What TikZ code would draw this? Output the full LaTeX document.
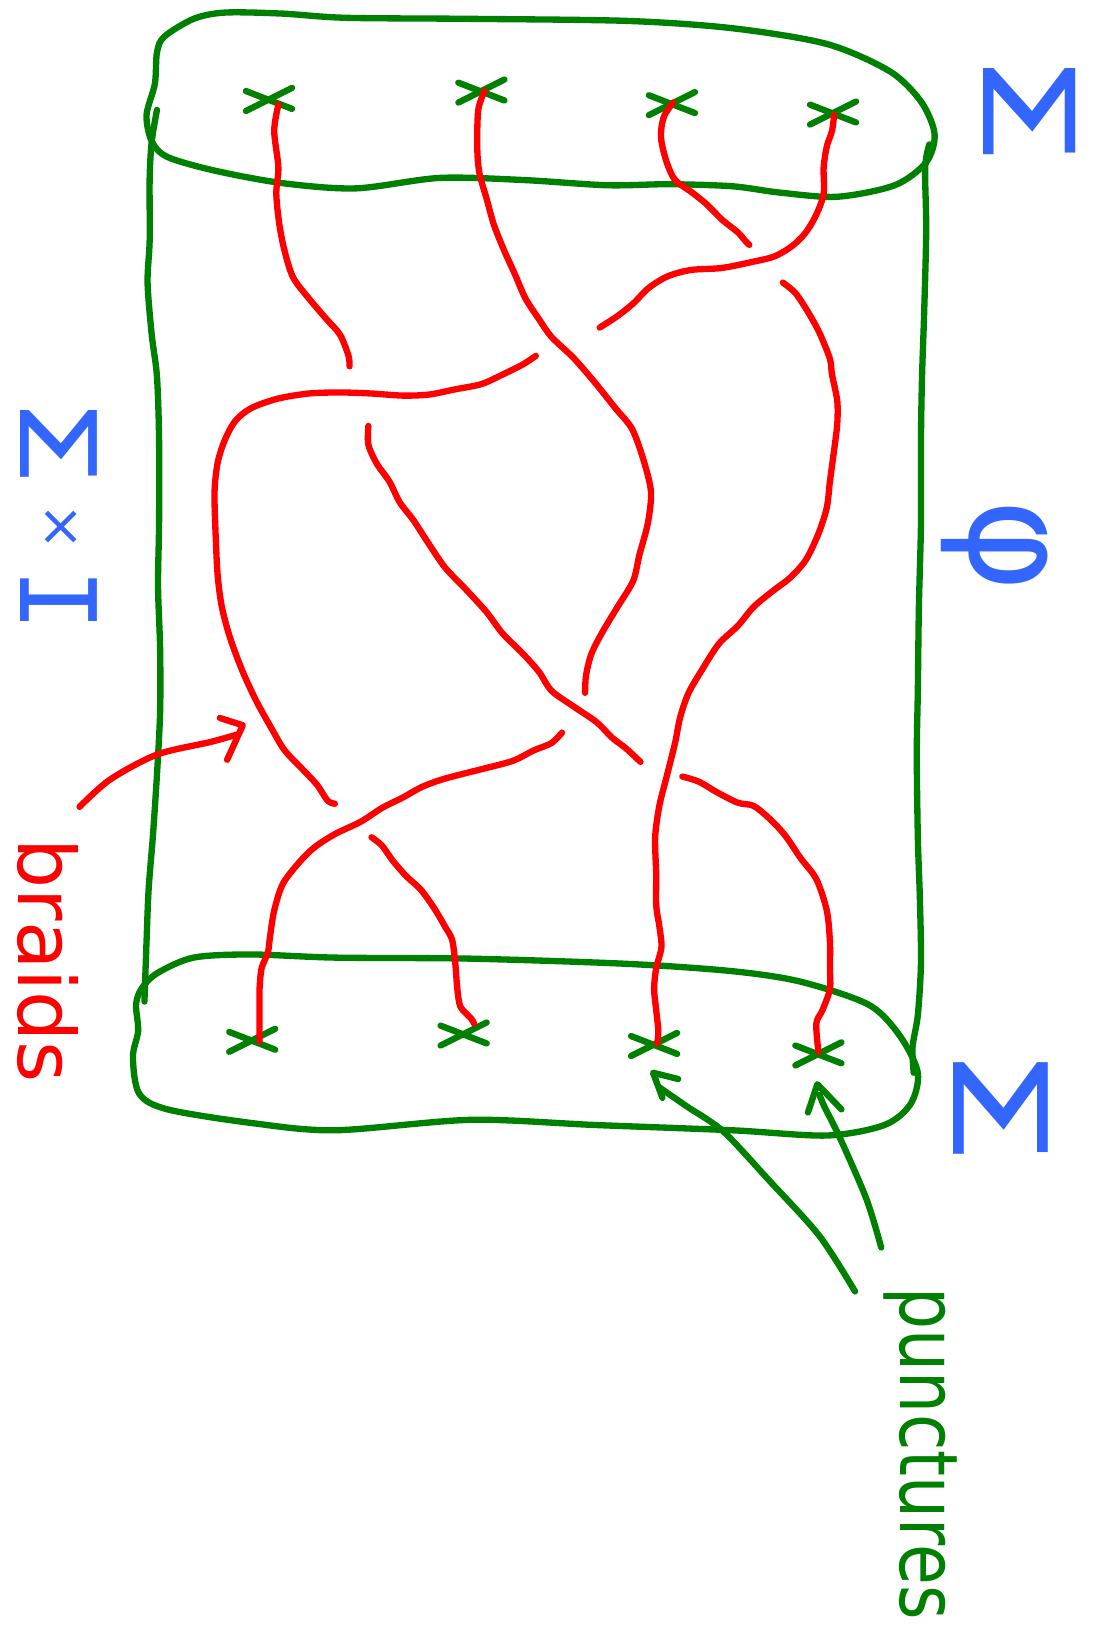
\documentclass[tikz,border=0pt]{standalone}
\usepackage{fontspec}
\setmainfont{DejaVu Sans}
\newfontfamily\slabfont{DejaVu Sans Mono}
\usepackage{graphicx}
\definecolor{penred}{RGB}{255,0,0}
\definecolor{pengreen}{RGB}{0,128,0}
\definecolor{penblue}{RGB}{51,102,255}
\usetikzlibrary{calc}

\begin{document}
\begin{tikzpicture}[x=0.010468cm,y=-0.010468cm,
  rim/.style={draw=pengreen,line width=1.8pt,line cap=round,line join=round},
  strand/.style={draw=penred,line width=1.8pt,line cap=round,line join=round},
  handlabel/.style={rotate=-90,inner sep=0pt},
  puncture/.pic={\draw[rim] (-23,-7) -- (21,10); \draw[rim] (-23,12) -- (21,-10);}]
  \useasboundingbox (0,0) rectangle (1046,1568);
  % Top disc
  \draw[rim] plot[smooth cycle] coordinates {(157,35) (185,18) (215,12) (270,13) (330,17) (450,18)
    (600,20) (700,27) (790,42) (850,68) (880,97) (893,128) (885,155) (855,177) (800,188) (745,184)
    (700,178) (640,176) (580,177) (500,172) (420,170) (340,180) (270,175) (205,163) (160,150)
    (145,135) (140,110) (148,80) (150,50)};
  % Bottom disc
  \draw[rim] plot[smooth cycle] coordinates {(150,930) (185,915) (240,912) (320,915) (450,916)
    (600,921) (700,928) (765,938) (830,960) (860,990) (877,1025) (870,1055) (845,1075) (790,1085)
    (700,1080) (570,1075) (450,1070) (320,1080) (240,1073) (160,1060) (133,1045) (127,1010)
    (132,985) (130,960) (135,945)};
  % Sides
  \draw[rim] plot[smooth] coordinates {(150,105) (145,135) (143,170) (143,230) (141,270) (145,320)
    (150,360) (152,420) (152,500) (151,560) (153,620) (153,680) (150,740) (146,800) (142,850)
    (140,900) (138,957)};
  \draw[rim] plot[smooth] coordinates {(888,138) (884,160) (885,220) (883,300) (881,360) (880,420)
    (880,500) (878,580) (877,660) (876,720) (877,800) (879,860) (880,920) (877,970) (872,1000)
    (873,1025)};
  % Punctures
  \foreach \px/\py in {258/94,461/86,643/98,797/107,242/993,444/987,626/997,783/1006}
    \pic at (\px,\py) {puncture};
  % Strand 1
  \draw[strand] plot[smooth] coordinates {(266,100) (262,125) (266,160) (264,185) (267,215)
    (272,240) (280,265) (295,285) (312,305) (325,320) (333,340) (334,350)};
  \draw[strand] plot[smooth] coordinates {(352,407) (352,425) (360,443) (372,460) (382,480)
    (395,497) (408,517) (425,542) (445,563) (465,585) (480,605) (500,625) (515,642) (527,660)
    (548,675) (570,690) (585,705) (598,715) (612,728)};
  \draw[strand] plot[smooth] coordinates {(652,742) (668,747) (685,757) (705,767) (720,770)
    (735,782) (750,798) (765,820) (780,840) (790,870) (793,900) (793,925) (793,945) (786,965)
    (780,978) (782,1005)};
  % Strand 2
  \draw[strand] plot[smooth] coordinates {(463,87) (457,105) (456,140) (458,165) (465,190)
    (472,215) (482,240) (492,262) (502,285) (515,305) (527,322) (548,342) (568,365) (588,390)
    (604,410) (615,440) (622,470) (619,500) (611,530) (605,555) (590,580) (575,605) (565,625)
    (560,645) (559,662)};
  \draw[strand] plot[smooth] coordinates {(537,700) (527,710) (510,717) (490,727) (460,735)
    (425,744) (403,752) (385,762) (365,772) (345,785) (320,797) (300,810) (285,825) (270,845)
    (262,870) (258,895) (256,910) (250,925) (248,945) (248,970) (248,995)};
  % Strand 3
  \draw[strand] plot[smooth] coordinates {(643,98) (635,110) (632,122) (632,135) (637,155)
    (645,172) (660,183) (675,195) (690,210) (705,222) (712,230) (716,234)};
  \draw[strand] plot[smooth] coordinates {(748,270) (760,280) (772,298) (783,318) (793,343)
    (795,358) (800,383) (800,405) (797,430) (793,460) (790,485) (782,510) (770,535) (755,552)
    (738,565) (720,580) (705,598) (687,615) (672,638) (658,662) (650,685) (645,710) (637,742)
    (630,770) (626,800) (627,835) (627,865) (630,885) (632,905) (627,925) (625,945) (627,965)
    (629,985) (628,997)};
  % Strand 4
  \draw[strand] plot[smooth] coordinates {(797,110) (795,125) (790,140) (787,160) (787,185)
    (780,205) (770,222) (757,235) (740,245) (720,250) (690,256) (660,258) (638,264) (620,275)
    (605,290) (590,302) (573,313)};
  \draw[strand] plot[smooth] coordinates {(512,340) (500,348) (480,358) (460,367) (435,372)
    (410,377) (385,378) (355,376) (325,375) (295,376) (265,381) (240,390) (225,402) (215,420)
    (208,442) (205,470) (206,510) (208,550) (212,580) (220,610) (232,642) (245,670) (260,697)
    (272,717) (290,736) (303,750) (313,765) (320,768)};
  \draw[strand] plot[smooth] coordinates {(355,800) (365,808) (375,822) (388,837) (402,850)
    (415,868) (425,885) (432,898) (435,920) (437,945) (440,962) (450,973) (453,978)};
  % Labels
  \node[handlabel,text=penblue,font=\fontsize{36}{36}\selectfont] (sigmatop) at (984,104)
    {\scalebox{1.45}[1]{Σ}};
  \node[handlabel,text=penblue,font=\fontsize{37}{37}\selectfont] (sigmabottom) at (956,1056)
    {\scalebox{1.5}[1]{Σ}};
  \node[handlabel,text=penblue,font=\fontsize{40}{40}\selectfont] (phi) at (950,522) {φ};
  \node[handlabel,text=penblue,anchor=base,font=\fontsize{30}{30}\selectfont] (sigmaI) at (20,491)
    {\scalebox{1.35}[1]{Σ}\hspace{5pt}\raisebox{6.5pt}{\fontsize{16}{16}\selectfont ×}\hspace{5pt}{\slabfont I}};
  \node[handlabel,text=penred,anchor=base,font=\fontsize{22.5}{22.5}\selectfont] (braidslabel)
    at (18,918) {braids};
  \node[handlabel,text=pengreen,anchor=base,font=\fontsize{23}{23}\selectfont] (puncturelabel)
    at (860,1389) {\scalebox{0.82}[1]{punctures}};
  % Arrows
  \coordinate (braidsfrom) at (76,771);
  \coordinate (braidstip) at (232,693);
  \draw[strand] plot[smooth] coordinates {(braidsfrom) (105,745) (150,721) (201,709) (226,702)};
  \draw[strand] (210,686) -- (braidstip) -- (217,726);
  \coordinate (leftfrom) at (817,1234);
  \coordinate (lefttip) at (624,1025);
  \draw[rim] plot[smooth] coordinates {(leftfrom) (783,1181) (735,1128) (691,1081) (656,1057) (630,1039)};
  \draw[rim] (648,1031) -- (lefttip) -- (633,1049);
  \coordinate (rightfrom) at (842,1192);
  \coordinate (righttip) at (781,1036);
  \draw[rim] plot[smooth] coordinates {(rightfrom) (828,1146) (802,1086) (788,1058) (783,1046)};
  \draw[rim] (772,1063) -- (righttip) -- (804,1060);
\end{tikzpicture}
\end{document}
